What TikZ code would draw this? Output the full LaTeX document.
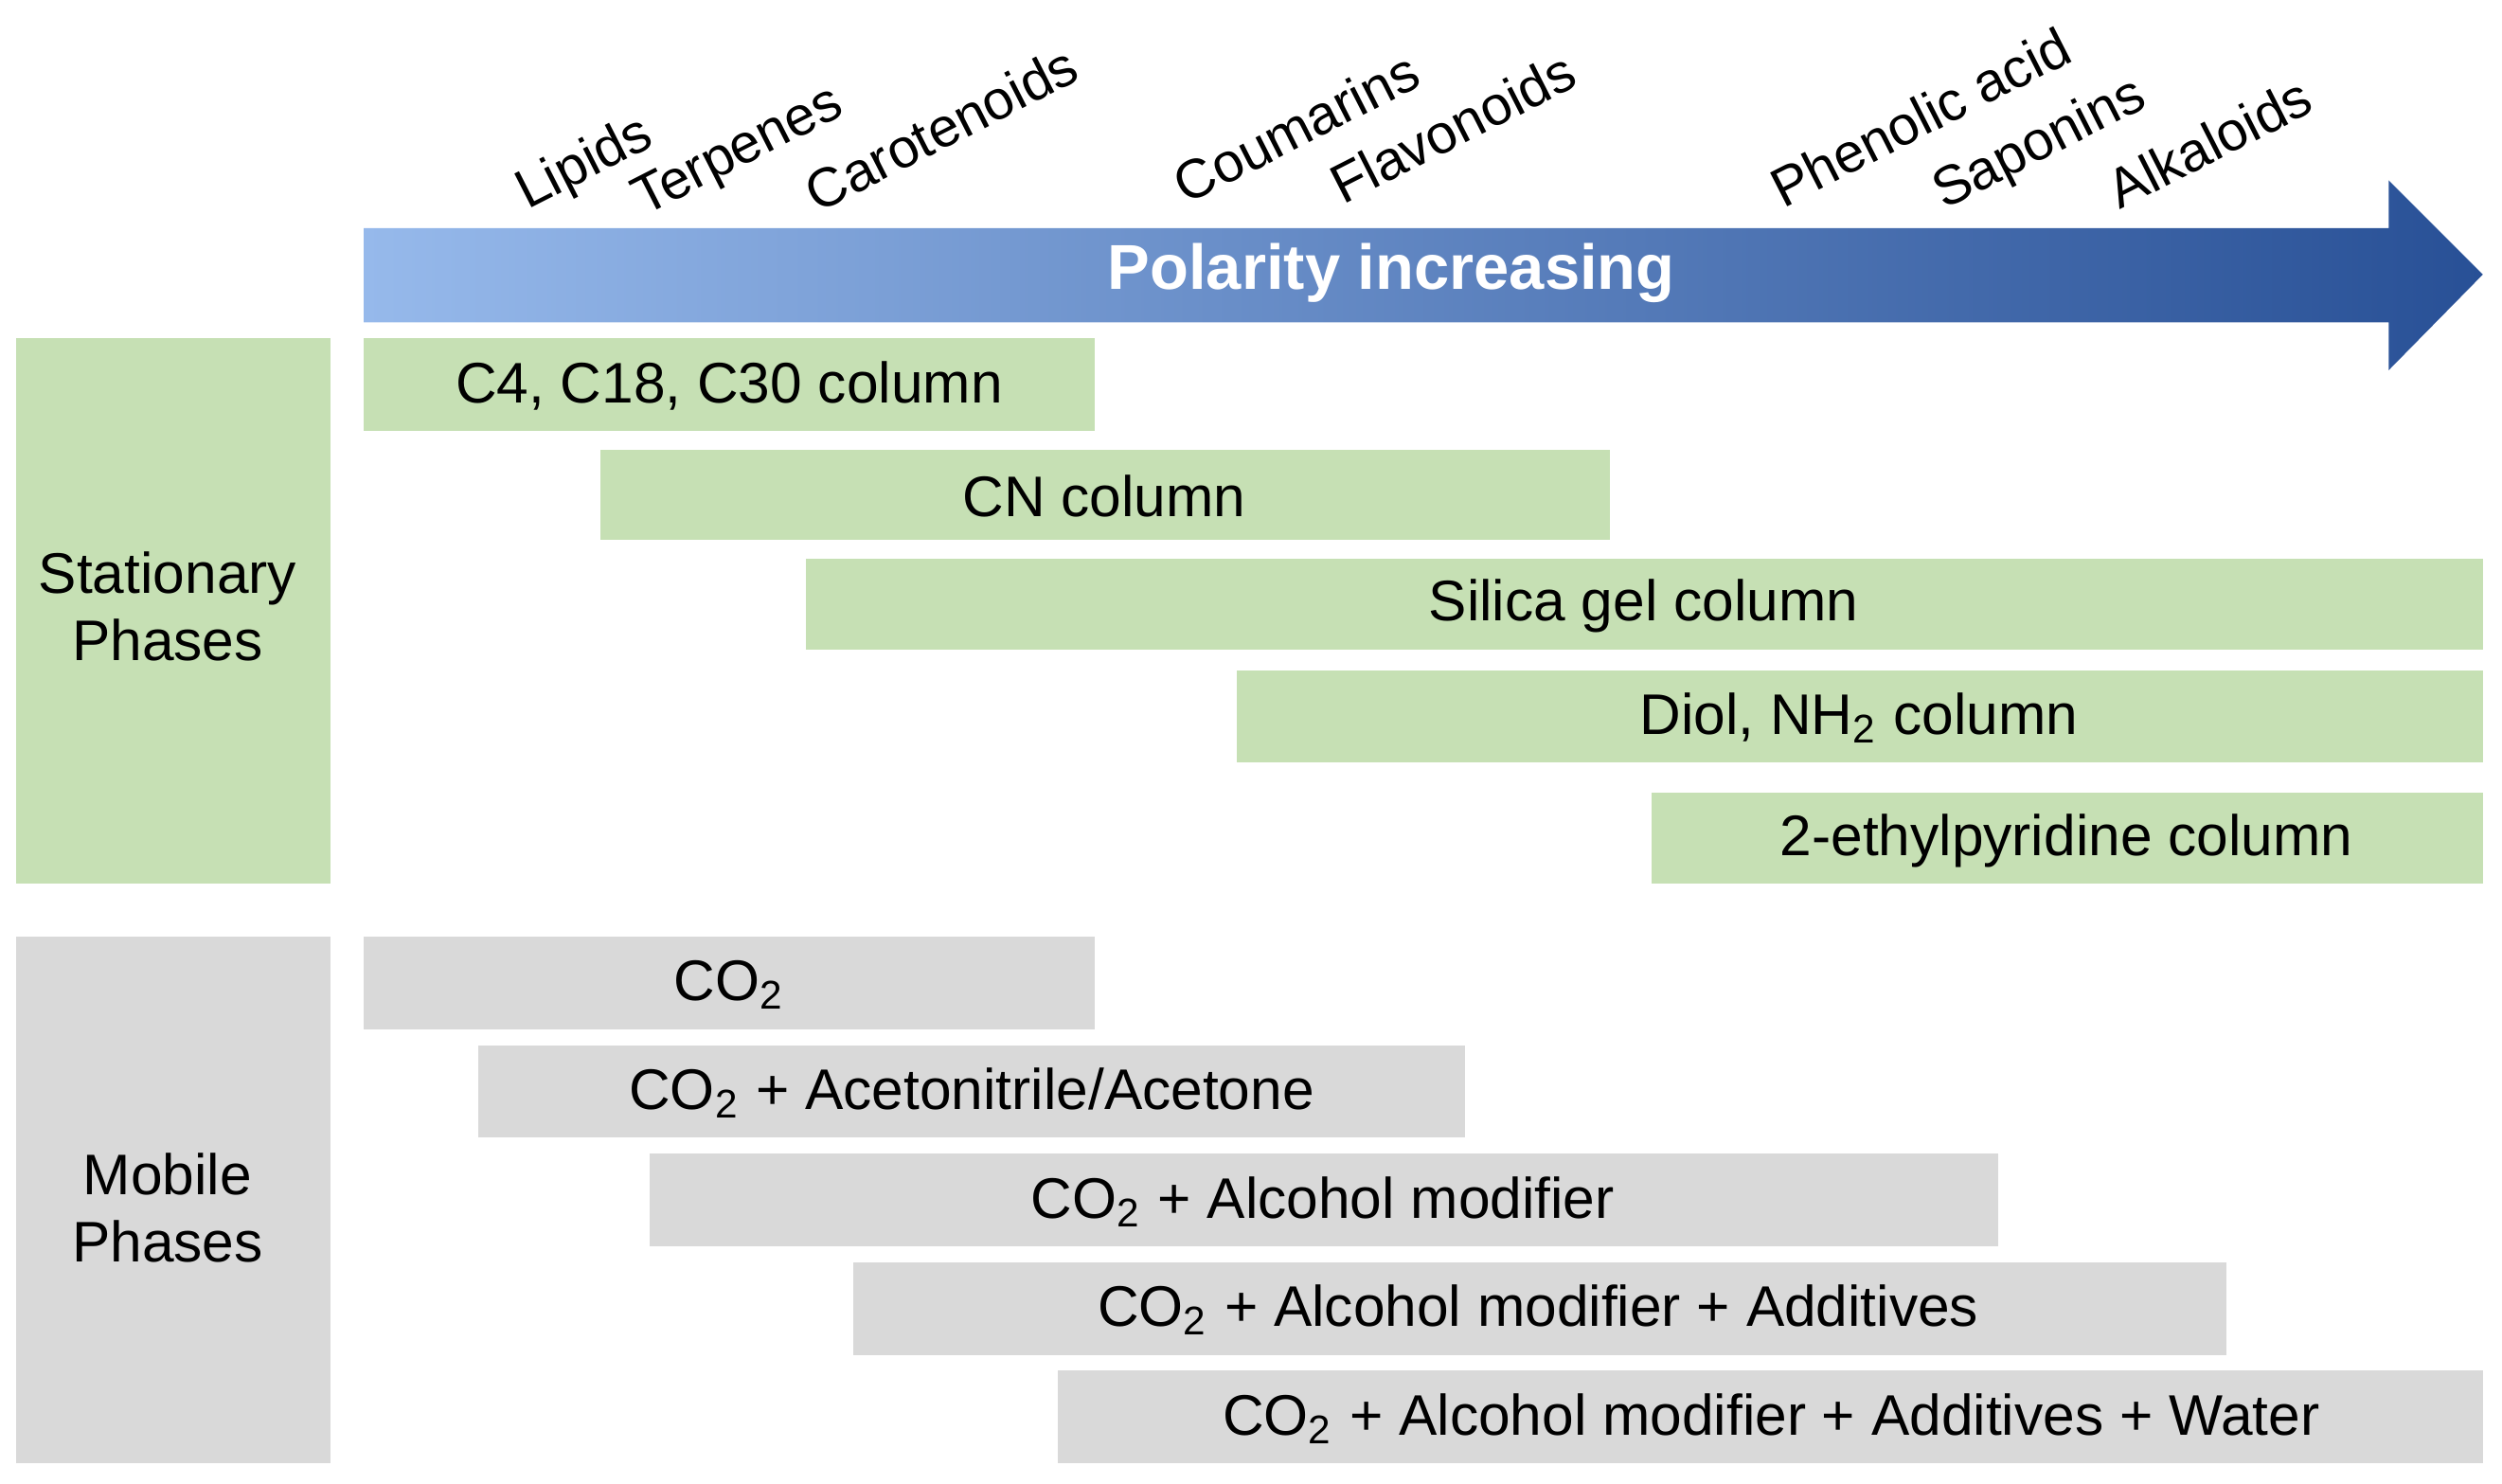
\documentclass[tikz,border=0pt]{standalone}
\usepackage{fontspec}
\setmainfont{Liberation Sans}
\begin{document}
\begin{tikzpicture}[x=0.01cm,y=-0.01cm,
  txt/.style={font=\fontsize{10.2}{12}\selectfont},
  lab/.style={font=\fontsize{9.8}{12}\selectfont,rotate=27,anchor=base west,inner sep=0pt}]
\definecolor{green1}{RGB}{198,224,180}
\definecolor{grey1}{RGB}{217,217,217}
\definecolor{blueL}{RGB}{150,185,235}
\definecolor{blueD}{RGB}{40,80,150}
\useasboundingbox (0,0) rectangle (1568,930);
% arrow
\shade[left color=blueL,right color=blueD,draw=none] (228,143) -- (1497,143) -- (1497,113) -- (1556,172) -- (1497,232) -- (1497,202) -- (228,202) -- cycle;
\node[font=\fontsize{11.3}{13}\selectfont\bfseries,text=white] (pol) at (872,171) {Polarity increasing};
% labels
\node[lab] (l1) at (330,132) {Lipids};
\node[lab] (l2) at (403,136) {Terpenes};
\node[lab] (l3) at (512,134) {Carotenoids};
\node[lab] (l4) at (743,129) {Coumarins};
\node[lab] (l5) at (841,129) {Flavonoids};
\node[lab] (l6) at (1117,131) {Phenolic acid};
\node[lab] (l7) at (1218,132) {Saponins};
\node[lab] (l8) at (1328,132) {Alkaloids};
% stationary
\fill[green1] (10,212) rectangle (207,554);
\node[txt,align=center] (st) at (105,380) {Stationary\\Phases};
\fill[green1] (228,212) rectangle (686,270); \node[txt] (s1) at (457,242) {C4, C18, C30 column};
\fill[green1] (376,282) rectangle (1009,338); \node[txt] (s2) at (692,311) {CN column};
\fill[green1] (505,350) rectangle (1556,407); \node[txt] (s3) at (1030,380) {Silica gel column};
\fill[green1] (775,420) rectangle (1556,478); \node[txt] (s4) at (1165,450) {Diol, NH\textsubscript{2} column};
\fill[green1] (1035,497) rectangle (1556,554); \node[txt] (s5) at (1295,527) {2-ethylpyridine column};
% mobile
\fill[grey1] (10,587) rectangle (207,917);
\node[txt,align=center] (mo) at (105,757) {Mobile\\Phases};
\fill[grey1] (228,587) rectangle (686,645); \node[txt] (m1) at (457,617) {CO\textsubscript{2}};
\fill[grey1] (300,655) rectangle (918,713); \node[txt] (m2) at (609,685) {CO\textsubscript{2} + Acetonitrile/Acetone};
\fill[grey1] (407,723) rectangle (1252,781); \node[txt] (m3) at (829,753) {CO\textsubscript{2} + Alcohol modifier};
\fill[grey1] (535,791) rectangle (1395,849); \node[txt] (m4) at (964,821) {CO\textsubscript{2} + Alcohol modifier + Additives};
\fill[grey1] (663,859) rectangle (1556,917); \node[txt] (m5) at (1110,889) {CO\textsubscript{2} + Alcohol modifier + Additives + Water};
\end{tikzpicture}
\end{document}
